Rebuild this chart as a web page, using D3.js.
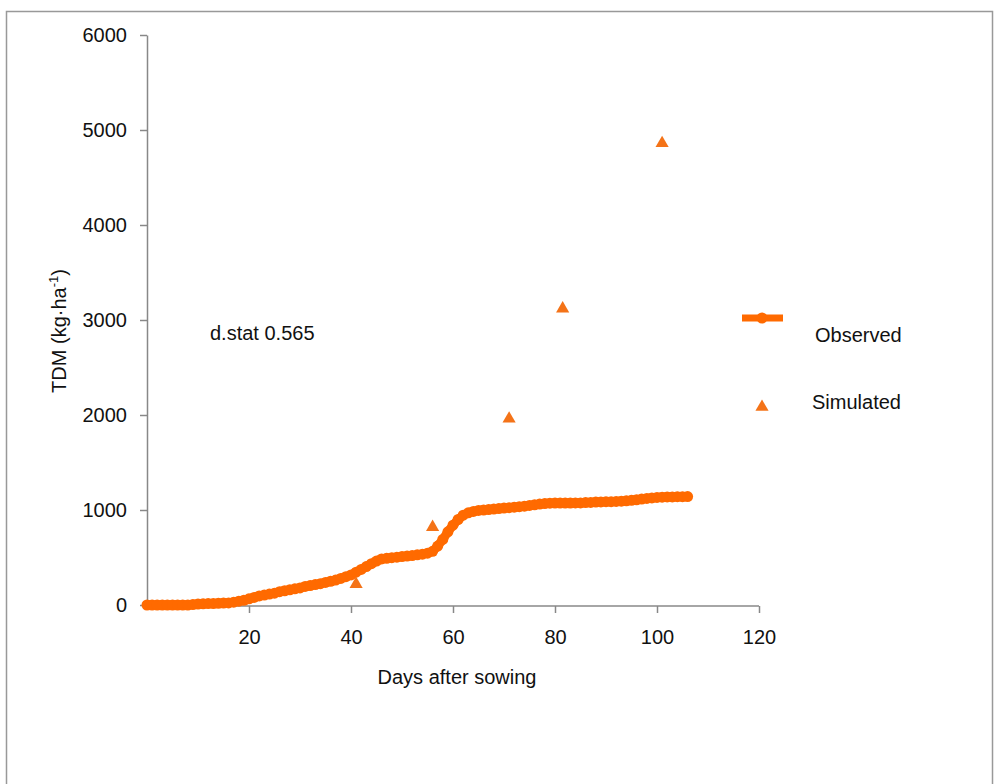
<!DOCTYPE html>
<html>
<head>
<meta charset="utf-8">
<script src="https://cdn.jsdelivr.net/npm/d3@7"></script>
<style>
  body { margin: 0; background: #fff; }
  text { font-family: "Liberation Sans", Arial, sans-serif; fill: #111; }
</style>
</head>
<body>
<div id="chart"></div>
<script>
// Data
var observedTdm = [
  0, 0, 0, 0, 0, 0, 0, 0, 0, 5,
  10, 12, 15, 15, 18, 20, 22, 30, 40, 50,
  65, 80, 95, 105, 115, 125, 140, 150, 160, 170,
  180, 195, 205, 215, 225, 238, 250, 263, 280, 298,
  316, 345, 375, 405, 435, 462, 485, 492, 498, 503,
  510, 515, 520, 528, 535, 545, 565, 620, 690, 770,
  840, 900, 945, 970, 985, 995, 1000, 1005, 1010, 1015,
  1020, 1025, 1030, 1035, 1040, 1048, 1055, 1062, 1068, 1072,
  1073, 1073, 1073, 1073, 1074, 1075, 1078, 1080, 1083, 1085,
  1087, 1088, 1090, 1093, 1097, 1102, 1108, 1115, 1122, 1127,
  1132, 1135, 1137, 1138, 1140, 1140, 1141
];
var observedDays = observedTdm.map(function(d, i) { return i; });

var simulatedDays = [41, 56, 71, 81.5, 101];
var simulatedTdm = [220, 820, 1960, 3120, 4860];

var xTicks = [20, 40, 60, 80, 100, 120];
var yTicks = [0, 1000, 2000, 3000, 4000, 5000, 6000];

var orange = "#ff6a00";
var svgWidth = 995;
var svgHeight = 784;

var margin = { top: 35, left: 147 };
var width = 612;
var height = 570;

var svg = d3.select("#chart")
  .append("svg")
  .attr("width", svgWidth)
  .attr("height", svgHeight);

// frame
svg.append("rect")
  .attr("x", 6.5)
  .attr("y", 11.5)
  .attr("width", 986)
  .attr("height", 790)
  .attr("fill", "none")
  .attr("stroke", "#999")
  .attr("stroke-width", 1.5);

var chartGroup = svg.append("g")
  .attr("transform", `translate(${margin.left}, ${margin.top})`);

var x = d3.scaleLinear().domain([0, 120]).range([0, width]);
var y = d3.scaleLinear().domain([0, 6000]).range([height, 0]);

// axes
var xAxis = chartGroup.append("g")
  .attr("transform", `translate(0, ${height + 1})`)
  .call(d3.axisBottom(x).tickValues(xTicks).tickFormat(d3.format("d"))
    .tickSize(7).tickPadding(17).tickSizeOuter(0));

var yAxis = chartGroup.append("g")
  .call(d3.axisLeft(y).tickValues(yTicks).tickFormat(d3.format("d"))
    .tickSize(7).tickPadding(13).tickSizeOuter(0));

[xAxis, yAxis].forEach(function(ax) {
  ax.select(".domain").attr("stroke", "#888").attr("stroke-width", 1.5);
  ax.selectAll(".tick line").attr("stroke", "#888").attr("stroke-width", 1.5);
  ax.selectAll(".tick text")
    .attr("fill", "#111")
    .style("font-size", "20px")
    .style("font-family", "Liberation Sans, Arial, sans-serif");
});
// x domain line starts at the y axis
xAxis.select(".domain").attr("d", `M0,0H${width}`);

// observed series
var line = d3.line()
  .x(function(d, i) { return x(observedDays[i]); })
  .y(function(d) { return y(d); });

chartGroup.append("path")
  .datum(observedTdm)
  .attr("d", line)
  .attr("fill", "none")
  .attr("stroke", orange)
  .attr("stroke-width", 9)
  .attr("stroke-linejoin", "round");

chartGroup.selectAll(".obs")
  .data(observedTdm)
  .enter()
  .append("circle")
  .attr("class", "obs")
  .attr("cx", function(d, i) { return x(observedDays[i]); })
  .attr("cy", function(d) { return y(d); })
  .attr("r", 5.5)
  .attr("fill", orange);

// simulated series
var tri = d3.symbol().type(d3.symbolTriangle).size(75);

chartGroup.selectAll(".sim")
  .data(simulatedTdm)
  .enter()
  .append("path")
  .attr("class", "sim")
  .attr("d", tri)
  .attr("transform", function(d, i) { return `translate(${x(simulatedDays[i])}, ${y(d)})`; })
  .attr("fill", "#f47318");

// axis titles
svg.append("text")
  .attr("x", 457)
  .attr("y", 684)
  .attr("text-anchor", "middle")
  .style("font-size", "20px")
  .text("Days after sowing");

var yTitle = svg.append("text")
  .attr("transform", "translate(66, 331) rotate(-90)")
  .attr("text-anchor", "middle")
  .style("font-size", "20px");
yTitle.append("tspan").text("TDM (kg·ha");
yTitle.append("tspan").attr("dy", -8).style("font-size", "13px").text("-1");
yTitle.append("tspan").attr("dy", 8).text(")");

// annotation
svg.append("text")
  .attr("x", 210)
  .attr("y", 340)
  .style("font-size", "20px")
  .text("d.stat 0.565");

// legend
svg.append("line")
  .attr("x1", 742).attr("x2", 783)
  .attr("y1", 318).attr("y2", 318)
  .attr("stroke", orange)
  .attr("stroke-width", 7);
svg.append("circle")
  .attr("cx", 762).attr("cy", 318).attr("r", 5.5)
  .attr("fill", orange);
svg.append("text")
  .attr("x", 815).attr("y", 342)
  .style("font-size", "20px")
  .text("Observed");

svg.append("path")
  .attr("d", tri)
  .attr("transform", "translate(762, 407)")
  .attr("fill", "#f47318");
svg.append("text")
  .attr("x", 812).attr("y", 409)
  .style("font-size", "20px")
  .text("Simulated");
</script>
</body>
</html>
